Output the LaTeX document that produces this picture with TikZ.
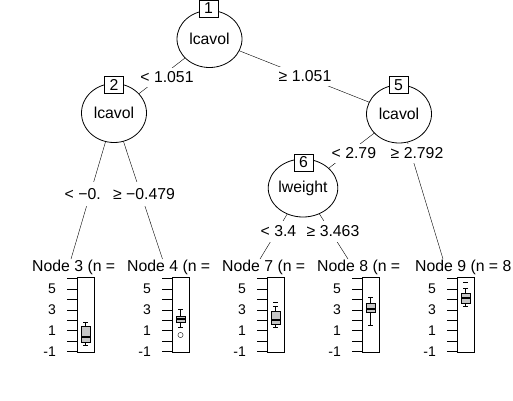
\documentclass[tikz,border=0pt]{standalone}
\usepackage{fontspec}
\setmainfont{Liberation Sans}
\usetikzlibrary{shapes.geometric}
\pgfdeclarelayer{bg}
\pgfsetlayers{bg,main}
\tikzset{
  inner/.style={ellipse, draw, fill=white, minimum width=65pt, minimum height=57pt, inner sep=0pt},
  idbox/.style={draw, fill=white, minimum width=19pt, minimum height=17pt, inner sep=0pt},
  elab/.style={fill=white, inner sep=1.5pt, minimum height=19pt},
  elabw/.style={elab, anchor=west},
  term/.style={anchor=west, inner sep=0pt},
  tlab/.style={anchor=east, inner sep=0pt, font=\fontsize{14}{16}\selectfont},
  bxfill/.style={draw, fill=gray!45},
  med/.style={line width=2pt},
}
\newcommand\mybxp[6]{%
  \draw (#1,#2) -- (#1,#3);
  \draw (#1,#5) -- (#1,#6);
  \draw (#1-2.5,#2) -- (#1+2.5,#2);
  \draw (#1-2.5,#6) -- (#1+2.5,#6);
  \draw[bxfill] (#1-4.5,#3) rectangle (#1+4.5,#5);
  \draw[med] (#1-4.5,#4) -- (#1+4.5,#4);
}
\begin{document}
\begin{tikzpicture}[x=1pt,y=-1pt,line width=0.8pt,font=\fontsize{15.8}{18}\selectfont]
\path[use as bounding box] (0,0) rectangle (513,400);
\clip (0,0) rectangle (513,400);

% inner nodes
\node[inner] (n1) at (209.5,39) {lcavol};
\node[idbox] (b1) at (208.5,8.5) {1};
\node[inner, minimum height=59pt] (n2) at (114,113) {lcavol};
\node[idbox] (b2) at (114,85) {2};
\node[inner, minimum height=58pt] (n5) at (399,114) {lcavol};
\node[idbox] (b5) at (398.5,85) {5};
\node[inner, minimum height=58pt] (n6) at (303,188) {lweight};
\node[idbox] (b6) at (303.5,162.5) {6};

% terminal tops
\coordinate (t3) at (71,259);
\coordinate (t4) at (162.5,259);
\coordinate (t7) at (260,259);
\coordinate (t8) at (348,259);
\coordinate (t9) at (443,259);

% edges
\begin{pgfonlayer}{bg}
\fill[white] (0,0) rectangle (513,400);
\draw (n1.center) -- (n2.center);
\draw (n1.center) -- (n5.center);
\draw (n2.center) -- (t3);
\draw (n2.center) -- (t4);
\draw (n5.center) -- (n6.center);
\draw (n5.center) -- (t9);
\draw (n6.center) -- (t7);
\draw (n6.center) -- (t8);
\end{pgfonlayer}

% edge labels
\node[elab] (l12) at (167,77) {< 1.051};
\node[elab] (l15) at (305,76.5) {≥ 1.051};
\node[elabw, minimum height=24pt] (l23) at (63,194) {< −0.};
\node[elab, minimum height=24pt] (l24) at (144,194) {≥ −0.479};
\node[elabw] (l56) at (330,153) {< 2.79};
\node[elab] (l59) at (417,153.5) {≥ 2.792};
\node[elabw, minimum height=21pt] (l67) at (259,231.5) {< 3.4};
\node[elab, minimum height=21pt] (l68) at (333,231.5) {≥ 3.463};

% terminal panels
\foreach \k/\L/\dx/\txt in {3/77/0/{Node 3 (n =},4/172/0/{Node 4 (n =},7/267/0/{Node 7 (n =},8/362/0/{Node 8 (n =},9/457/3/{Node 9 (n = 8}}{
  \node[term] (h\k) at (\L+8.5-53.5+\dx,267) {\txt};
  \node[draw, minimum width=17pt, minimum height=75pt, inner sep=0pt] (p\k) at (\L+8.5,314.5) {};
  \foreach \v in {-1,...,6}{
    \draw (\L-10,{341.07-10.43*\v}) -- (\L,{341.07-10.43*\v});
  }
  \foreach \v in {5,3,1,-1}{
    \node[tlab] at (\L-21,{341.07-10.43*\v}) {\v};
  }
}

% boxplots
\mybxp{85.5}{322.5}{326}{337}{342}{345.5}
\mybxp{180.5}{309.5}{316}{318.5}{322}{327}
\draw (180.5,335) circle (2.6);
\mybxp{275.5}{306}{311}{320}{324}{327.5}
\draw (273,302) -- (278,302);
\mybxp{370.5}{297}{303.5}{309}{312}{325}
\mybxp{465.5}{288}{293}{298}{303}{306}
\draw (463,282) -- (468,282);
\end{tikzpicture}
\end{document}
